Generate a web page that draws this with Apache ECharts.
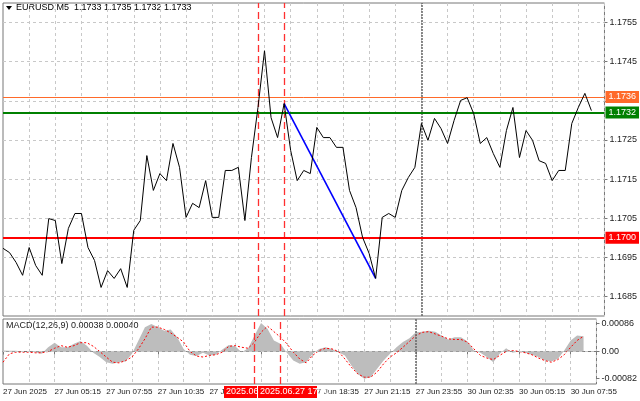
<!DOCTYPE html>
<html>
<head>
<meta charset="utf-8">
<script src="https://cdn.jsdelivr.net/npm/echarts@6/dist/echarts.min.js"></script>
<style>
  html, body { margin: 0; padding: 0; background: #fff; }
  #main { width: 640px; height: 401px; }
</style>
</head>
<body>
<div id="main"></div>
<script>
// EURUSD M5 close, one point every 20 minutes
const price = [
  1.16973, 1.16962, 1.16937, 1.16904, 1.16975, 1.16929, 1.16904, 1.17049, 1.17044, 1.16934,
  1.17024, 1.17062, 1.17062, 1.16975, 1.16942, 1.16873, 1.16916, 1.16896, 1.16921, 1.16873,
  1.17019, 1.17044, 1.17210, 1.17121, 1.17164, 1.17146, 1.17241, 1.17180, 1.17052, 1.17088,
  1.17077, 1.17146, 1.17052, 1.17052, 1.17172, 1.17172, 1.17180, 1.17044, 1.17205, 1.17333,
  1.17478, 1.17307, 1.17256, 1.17343, 1.17223, 1.17146, 1.17172, 1.17164, 1.17282, 1.17256,
  1.17256, 1.17231, 1.17231, 1.17121, 1.17077, 1.17001, 1.16960, 1.16896, 1.17052, 1.17062,
  1.17052, 1.17121, 1.17154, 1.17180, 1.17292, 1.17249, 1.17305, 1.17279, 1.17241, 1.17300,
  1.17351, 1.17358, 1.17317, 1.17241, 1.17256, 1.17215, 1.17180, 1.17274, 1.17333, 1.17205,
  1.17274, 1.17249, 1.17197, 1.17190, 1.17146, 1.17172, 1.17172, 1.17292, 1.17333, 1.17369,
  1.17325
];

const macdHist = [
  0.00003, 0.00002, 0.00002, 0, 0, -0.00002, -0.00007, 0.00013, 0.00027, 0.00013,
  0.00013, 0.00024, 0.00032, 0.00018, -0.00004, -0.00017, -0.00033, -0.00038, -0.00033, -0.00031,
  -0.00007, 0.00034, 0.00075, 0.00085, 0.00075, 0.00064, 0.00068, 0.00044, 0.00008, -0.0001,
  -0.00014, -0.00004, -0.00012, -0.0001, 0.00006, 0.0002, 0.00016, -0.00002, 0.0001, 0.00049,
  0.00088, 0.0007, 0.00034, 0.00024, -0.00004, -0.00028, -0.00038, -0.00033, -0.00007, 0.00008,
  0.00013, 0.00008, -0.00002, -0.00012, -0.00043, -0.00069, -0.00084, -0.00079, -0.00053, -0.00028,
  -0.00007, 0.00013, 0.00029, 0.00041, 0.00059, 0.00061, 0.00064, 0.00061, 0.00049, 0.00037,
  0.00044, 0.00044, 0.00031, 0.00003, -0.00004, -0.00017, -0.00033, -0.00007, 0.0001, -0.00004,
  0, -0.00004, -0.0001, -0.00017, -0.00028, -0.00031, -0.00023, 0.00003, 0.00034, 0.00049,
  0.00047
];

const macdSignal = [
  -0.00033, -0.00007, -0.00002, -0.00002, -0.00002, -0.00004, -0.00004, 0, 0.0001, 0.00018,
  0.00013, 0.00018, 0.00027, 0.00027, 0.00016, 0, -0.00017, -0.00033, -0.00035, -0.00028,
  -0.00017, 0.00008, 0.00039, 0.00075, 0.00075, 0.00068, 0.00057, 0.00044, 0.00029, 0,
  -0.00014, -0.00017, -0.00012, -0.0001, -0.00002, 0.00016, 0.00018, 0.00013, 0.0001, 0.00029,
  0.00059, 0.00078, 0.00061, 0.00044, 0.00024, -0.00002, -0.00023, -0.00035, -0.00012, 0.00003,
  0.0001, 0.00008, 0, -0.00023, -0.00048, -0.00069, -0.00079, -0.00079, -0.00063, -0.00038,
  -0.00017, -0.00004, 0.00013, 0.00031, 0.00049, 0.00059, 0.00061, 0.00054, 0.00047, 0.00039,
  0.00037, 0.00037, 0.00029, 0.00008, -0.00012, -0.0002, -0.00025, -0.00012, 0, 0.00003,
  0, -0.00004, -0.0001, -0.0002, -0.00028, -0.00033, -0.00025, -0.0001, 0.00013, 0.00034,
  0.00047
];

const timeLabels = [
  '27 Jun 2025', '27 Jun 05:15', '27 Jun 07:55', '27 Jun 10:35', '27 Jun 13:15', '27 Jun 15:55',
  '27 Jun 18:35', '27 Jun 21:15', '27 Jun 23:55', '30 Jun 02:35', '30 Jun 05:15', '30 Jun 07:55'
];

const priceTicks = [1.1685, 1.1695, 1.1705, 1.1715, 1.1725, 1.1735, 1.1745, 1.1755];
const macdTicks = [-0.00082, 0, 0.00086];

const levels = { resistance: 1.1736, last: 1.1733, bid: 1.1732, support: 1.17 };
const trendFrom = 43, trendTo = 57;
const vLines = [39, 43];
const daySep = 64;

const cats = [];
for (let i = 0; i < 93; i++) cats.push(String(i));
const lastCat = cats[cats.length - 1];

const font = 'Liberation Sans, Arial, sans-serif';
const gridColor = '#c8c8c8';

// horizontal line as a coord pair so it spans the whole pane
function hLine(v, lineStyle, label) {
  return [
    { coord: ['0', v], lineStyle: lineStyle, label: label || { show: false } },
    { coord: [lastCat, v] }
  ];
}
function tag(text, bg, dy) {
  return { show: true, position: 'end', formatter: text, color: '#fff', backgroundColor: bg,
    padding: [2, 3, 1, 3], fontSize: 9, distance: 1, offset: [0, dy || 0] };
}

const chart = echarts.init(document.getElementById('main'));

const vMark = () => vLines.map(i => ({ xAxis: i, lineStyle: { color: '#ff3030', type: [7, 4], width: 1.3 } }))
  .concat([{ xAxis: daySep, lineStyle: { color: '#666', type: [2, 1], width: 1.5 } }]);

chart.setOption({
  animation: false,
  textStyle: { fontFamily: font },
  grid: [
    { left: 3, right: 33, top: 3, height: 313, show: true, borderColor: '#777', borderWidth: 1 },
    { left: 3, right: 33, top: 319, height: 65, show: true, borderColor: '#777', borderWidth: 1 }
  ],
  xAxis: [
    {
      type: 'category', gridIndex: 0, data: cats, boundaryGap: false,
      axisLine: { show: false }, axisTick: { show: false }, axisLabel: { show: false },
      splitLine: { show: true, interval: (i) => i % 4 === 0 && i > 0, lineStyle: { color: gridColor, type: [3, 3] } }
    },
    {
      type: 'category', gridIndex: 1, data: cats, boundaryGap: false,
      axisLine: { lineStyle: { color: '#777' } },
      axisTick: { show: true, interval: (i) => i % 8 === 0, length: 3, lineStyle: { color: '#777' } },
      axisLabel: {
        interval: (i) => i % 8 === 0, align: 'left', margin: 4, hideOverlap: false,
        fontSize: 8, color: '#222',
        formatter: (v, i) => timeLabels[i / 8] || ''
      },
      splitLine: { show: true, interval: (i) => i % 4 === 0 && i > 0, lineStyle: { color: gridColor, type: [3, 3] } }
    }
  ],
  yAxis: [
    {
      type: 'value', gridIndex: 0, position: 'right', min: 1.168, max: 1.176,
      axisLine: { show: false },
      axisTick: { show: true, customValues: priceTicks, length: 3, lineStyle: { color: '#777' } },
      axisLabel: { customValues: priceTicks, fontSize: 9, color: '#222', margin: 5, formatter: (v) => v.toFixed(4) },
      splitLine: { show: false }
    },
    {
      type: 'value', gridIndex: 1, position: 'right', min: -0.001, max: 0.001,
      axisLine: { show: false },
      axisTick: { show: true, customValues: macdTicks, length: 3, lineStyle: { color: '#777' } },
      axisLabel: { customValues: macdTicks, fontSize: 9, color: '#222', margin: 5, formatter: (v) => v === 0 ? '0.00' : v.toFixed(5) },
      splitLine: { show: false }
    }
  ],
  series: [
    {
      type: 'line', xAxisIndex: 0, yAxisIndex: 0, data: price, symbol: 'none',
      lineStyle: { color: '#000', width: 1 }, z: 5,
      markLine: {
        silent: true, symbol: 'none', animation: false,
        label: { show: false },
        data: priceTicks.map(v => hLine(v, { color: gridColor, type: [3, 3], width: 1 }))
          .concat(vMark())
          .concat([
            hLine(levels.resistance, { color: '#ff6a2a', type: 'solid', width: 1 }, tag(levels.resistance.toFixed(4), '#ff6a2a')),
            hLine(levels.last, { color: '#000', width: 0, opacity: 0 }, tag(levels.last.toFixed(4), '#000', -3)),
            hLine(levels.bid, { color: '#008000', type: 'solid', width: 2 }, tag(levels.bid.toFixed(4), '#008000')),
            hLine(levels.support, { color: '#ff0000', type: 'solid', width: 2 }, tag(levels.support.toFixed(4), '#ff0000')),
            [
              { coord: [String(trendFrom), price[trendFrom]], lineStyle: { color: '#0000ff', width: 1.6, type: 'solid' } },
              { coord: [String(trendTo), price[trendTo]] }
            ]
          ])
      }
    },
    {
      type: 'line', xAxisIndex: 1, yAxisIndex: 1, data: macdHist, symbol: 'none',
      lineStyle: { width: 0 }, areaStyle: { color: '#bdbdbd', opacity: 1, origin: 0 }, z: 2,
      markLine: {
        silent: true, symbol: 'none', animation: false, label: { show: false },
        data: [hLine(0, { color: gridColor, type: [3, 3], width: 1 })].concat(vMark())
      }
    },
    {
      type: 'line', xAxisIndex: 1, yAxisIndex: 1, data: macdSignal, symbol: 'none',
      lineStyle: { color: '#ff0000', width: 1, type: [2, 2] }, z: 4
    }
  ],
  graphic: [
    { type: 'polygon', shape: { points: [[6, 6], [12, 6], [9, 10]] }, style: { fill: '#000' } },
    { type: 'text', left: 16, top: 3, style: { text: 'EURUSD,M5  1.1733 1.1735 1.1732 1.1733', fontSize: 9, fill: '#000', fontFamily: font } },
    { type: 'text', left: 6, top: 321, style: { text: 'MACD(12,26,9) 0.00038 0.00040', fontSize: 9, fill: '#222', fontFamily: font } },
    { type: 'rect', shape: { x: 224, y: 386, width: 33, height: 12 }, style: { fill: '#ff0000' }, z: 100 },
    { type: 'text', x: 226, y: 387, style: { text: '2025.06', fontSize: 9, fill: '#fff', fontFamily: font }, z: 101 },
    { type: 'rect', shape: { x: 258, y: 386, width: 59, height: 12 }, style: { fill: '#ff0000' }, z: 100 },
    { type: 'text', x: 260, y: 387, style: { text: '2025.06.27 17:00', fontSize: 9, fill: '#fff', fontFamily: font }, z: 101 }
  ]
});
</script>
</body>
</html>
